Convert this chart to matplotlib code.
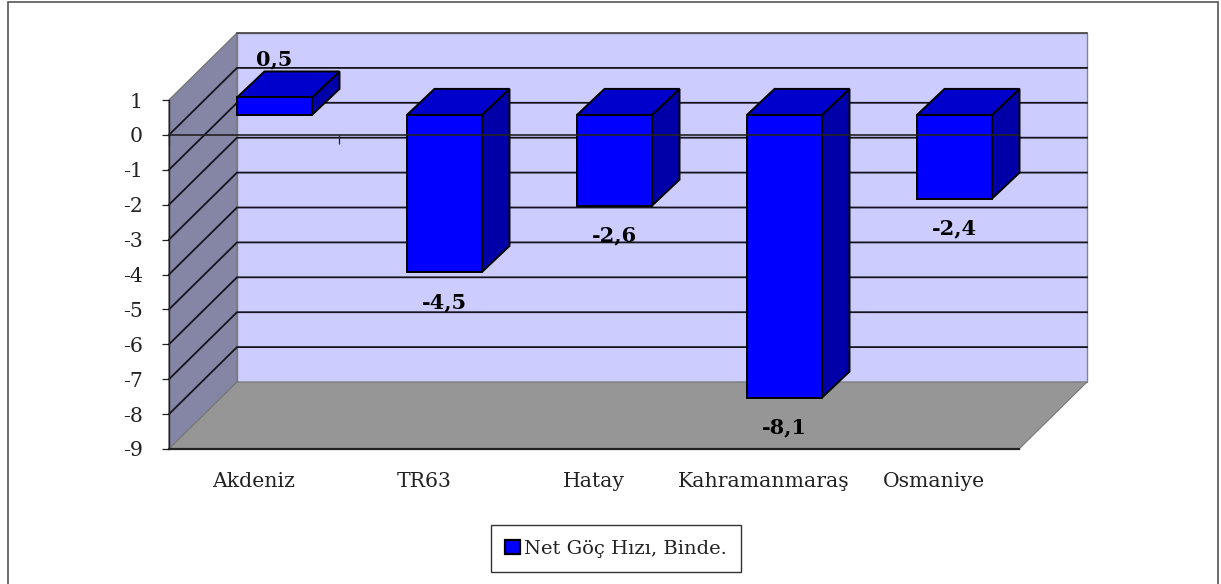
import matplotlib
matplotlib.use("Agg")
import matplotlib.pyplot as plt
from matplotlib.patches import Polygon, Patch, Rectangle

categories = ["Akdeniz", "TR63", "Hatay", "Kahramanmaraş", "Osmaniye"]
values = [0.5, -4.5, -2.6, -8.1, -2.4]
value_labels = ["0,5", "-4,5", "-2,6", "-8,1", "-2,4"]
series_name = "Net Göç Hızı, Binde."
y_ticks = list(range(-9, 2))

W, H = 1221, 584
L, R, T, B = 169, 1019, 100, 449
PX = (R - L) / 5          # pixels per category
PY = (B - T) / 10         # pixels per value unit
wall_dx, wall_dy = 68 / PX, 67 / PY
bar_dx, bar_dy = 20.5 / PX, 20 / PY
deep_dx, deep_dy = 27.5 / PX, 26 / PY
bar_w = 75 / PX
SERIF = "DejaVu Serif"

fig = plt.figure(figsize=(W / 100, H / 100), dpi=100, facecolor="white")
fig.add_artist(Rectangle((8 / W, -0.02), 1210 / W, 1 - 1.5 / H + 0.02, transform=fig.transFigure,
                         fill=False, edgecolor="#555555", linewidth=1.2))
ax = fig.add_axes([L / W, 1 - B / H, (R - L) / W, (B - T) / H])
ax.set_xlim(0, 5)
ax.set_ylim(-9, 1)
ax.patch.set_visible(False)

ymin, ymax = -9, 1


def poly(pts, fc, ec="none", lw=0.0, z=1):
    ax.add_patch(Polygon(pts, closed=True, facecolor=fc, edgecolor=ec, linewidth=lw,
                         zorder=z, clip_on=False, joinstyle="miter"))


# walls and floor
poly([(wall_dx, ymin + wall_dy), (5 + wall_dx, ymin + wall_dy),
      (5 + wall_dx, ymax + wall_dy), (wall_dx, ymax + wall_dy)], "#CCCCFF", "#858585", 1.0)
poly([(0, ymin), (wall_dx, ymin + wall_dy), (wall_dx, ymax + wall_dy), (0, ymax)],
     "#8585A6", "#777777", 1.0)
poly([(0, ymin), (5, ymin), (5 + wall_dx, ymin + wall_dy), (wall_dx, ymin + wall_dy)],
     "#969696", "#777777", 0.8)
ax.plot([wall_dx, 5 + wall_dx], [ymax + wall_dy] * 2, color="#444444", lw=1.2, clip_on=False, zorder=2)

# gridlines: diagonal on the side wall, straight along the back wall
for v in y_ticks[1:-1]:
    ax.plot([0, wall_dx, 5 + wall_dx], [v, v + wall_dy, v + wall_dy], color="#14141f", lw=1.3,
            clip_on=False, zorder=2, solid_joinstyle="miter")

# category ticks under the zero line
ax.vlines(range(6), -9 / PY, 0, color="#222222", lw=0.9, zorder=2, clip_on=False)

# bars
for i, v in enumerate(values):
    x0 = i + 0.5 - bar_w / 2 + bar_dx
    x1 = x0 + bar_w
    b = bar_dy
    t = v + bar_dy
    top = max(b, t)
    lo = min(b, t)
    poly([(x1, lo), (x1 + deep_dx, lo + deep_dy), (x1 + deep_dx, top + deep_dy), (x1, top)],
         "#0000A8", "black", 1.4, 3)
    poly([(x0, top), (x1, top), (x1 + deep_dx, top + deep_dy), (x0 + deep_dx, top + deep_dy)],
         "#0000CC", "black", 1.4, 3)
    poly([(x0, lo), (x1, lo), (x1, top), (x0, top)], "#0000FF", "black", 1.4, 3)
    off = 38 if v > 0 else -30
    ax.annotate(value_labels[i], xy=((x0 + x1) / 2, t), xytext=(0, off * 0.72),
                textcoords="offset points", ha="center", va="center", fontsize=15,
                fontweight="bold", family=SERIF, color="black", zorder=5, annotation_clip=False)

# zero line, in front of the bars
ax.plot([0, 5], [0, 0], color="#222222", lw=1.2, zorder=4, clip_on=False)

# axes
for s in ("top", "right"):
    ax.spines[s].set_visible(False)
for s in ("left", "bottom"):
    ax.spines[s].set_color("#222222")
    ax.spines[s].set_zorder(4)
ax.spines["left"].set_linewidth(1.0)
ax.spines["bottom"].set_linewidth(1.6)
ax.set_yticks(y_ticks)
ax.set_yticklabels([str(t) for t in y_ticks], family=SERIF, fontsize=14.7, color="#222222")
ax.tick_params(axis="y", length=5, width=0.9, color="#222222", pad=14)
ax.set_xticks([i + 0.5 for i in range(len(categories))])
ax.set_xticklabels(categories, family=SERIF, fontsize=14.7, color="#222222")
ax.tick_params(axis="x", length=0, pad=16.5)

leg = fig.legend(handles=[Patch(facecolor="#0000FF", edgecolor="black", linewidth=1.6, label=series_name)],
                 loc="center", bbox_to_anchor=(616 / W, 1 - 548.5 / H), frameon=True, fancybox=False,
                 edgecolor="#333333", framealpha=1, handlelength=0.74, handleheight=0.74, handletextpad=0.2,
                 borderpad=0.75, prop={"family": SERIF, "size": 14})
leg.get_frame().set_linewidth(1.0)
for t in leg.get_texts():
    t.set_color("#222222")

fig.savefig("out.png", dpi=100)
